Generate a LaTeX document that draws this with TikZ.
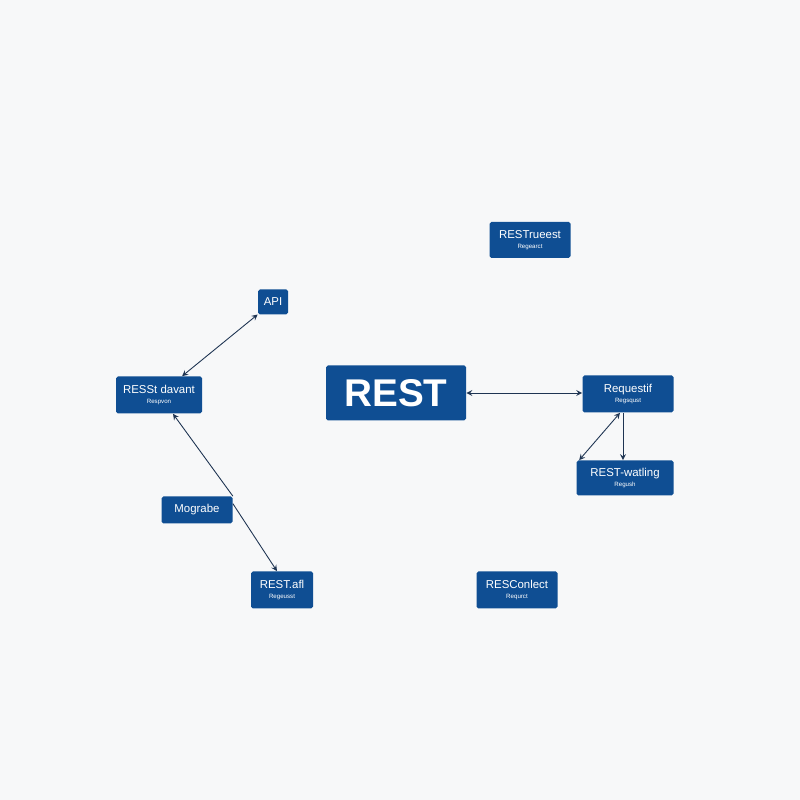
\documentclass[tikz,border=0pt]{standalone}
\usepackage{fontspec}
\setmainfont{Liberation Sans}
\usepackage{tikz}
\usetikzlibrary{calc,arrows}

\definecolor{restblue}{HTML}{0F4E93}
\definecolor{linkline}{HTML}{1E3452}
\definecolor{paper}{HTML}{F7F8F9}

\begin{document}
\begin{tikzpicture}[
    box/.style={fill=restblue, text=white, rounded corners=1pt, inner sep=0pt, align=center, font=\fontsize{6.5}{7}\selectfont},
    link/.style={draw=linkline, line width=0.5pt, >=stealth}
  ]
                      \fill[paper] (0,0) rectangle (16,16);
                      \useasboundingbox (0,0) rectangle (16,16);

                      \node[box, minimum width=1.62cm, minimum height=0.72cm] (restrueest) at (10.6,11.2) {RESTrueest\\[-1pt]{\fontsize{3.5}{4}\selectfont Regearct}};
                      \node[box, minimum width=0.6cm, minimum height=0.5cm] (api) at (5.46,9.96) {API};
                      \node[box, minimum width=1.72cm, minimum height=0.74cm] (davant) at (3.18,8.1) {RESSt davant\\[-1pt]{\fontsize{3.5}{4}\selectfont Respvon}};
                      \node[box, minimum width=2.8cm, minimum height=1.1cm, font=\fontsize{22}{24}\selectfont\bfseries] (rest) at (7.92,8.14) {REST};
                      \node[box, minimum width=1.82cm, minimum height=0.74cm] (reqif) at (12.56,8.12) {Requestif\\[-1pt]{\fontsize{3.5}{4}\selectfont Regsqust}};
                      \node[box, minimum width=1.94cm, minimum height=0.7cm] (watling) at (12.5,6.44) {REST-watling\\[-1pt]{\fontsize{3.5}{4}\selectfont Regush}};
                      \node[box, minimum width=1.42cm, minimum height=0.54cm] (mog) at (3.94,5.8) {Mograbe};
                      \node[box, minimum width=1.24cm, minimum height=0.74cm] (restafl) at (5.64,4.2) {REST.afl\\[-1pt]{\fontsize{3.5}{4}\selectfont Regeusst}};
                      \node[box, minimum width=1.62cm, minimum height=0.74cm] (resconlect) at (10.34,4.2) {RESConlect\\[-1pt]{\fontsize{3.5}{4}\selectfont Requrct}};

                      % links
                      \draw[link, <->] (davant) -- (api);
                      \draw[link, <-] ([xshift=2.8mm]davant.south) -- (mog.north east);
                      \draw[link, ->] ([yshift=-1.5mm]mog.north east) -- ([xshift=-1mm]restafl.north);
                      \draw[link, <->] (rest.east) -- (rest.east -| reqif.west);
                      \draw[link, ->] ([xshift=-1mm]reqif.south) -- ([xshift=-1mm]reqif.south |- watling.north);
                      \draw[link, <->] ([xshift=-1.6mm]reqif.south) -- ([xshift=0.6mm]watling.north west);
                  \end{tikzpicture}
\end{document}
